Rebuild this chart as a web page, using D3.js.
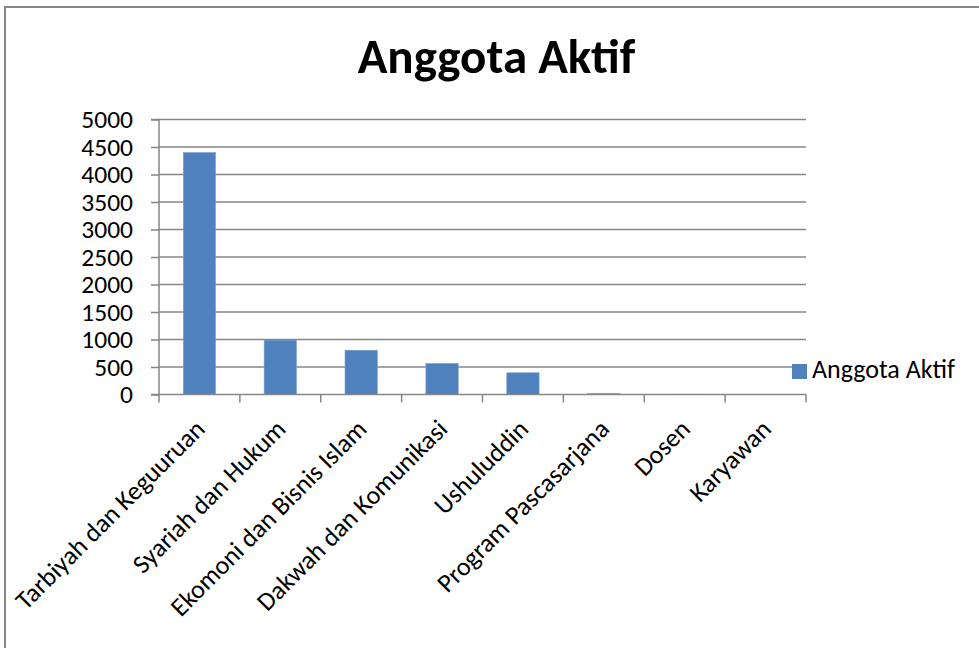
<!DOCTYPE html>
<html><head><meta charset="utf-8">
<script src="https://cdn.jsdelivr.net/npm/d3@7"></script>
<style>body{margin:0;background:#fff}svg{display:block}</style>
</head><body>
<svg id="c" width="979" height="648"></svg>
<script>
const categories = ["Tarbiyah dan Keguuruan","Syariah dan Hukum","Ekomoni dan Bisnis Islam","Dakwah dan Komunikasi","Ushuluddin","Program Pascasarjana","Dosen","Karyawan"];
const values = [4400, 990, 805, 565, 395, 20, 5, 0];
const yTicks = [0,500,1000,1500,2000,2500,3000,3500,4000,4500,5000];
const seriesName = "Anggota Aktif";
const chartTitle = "Anggota Aktif";

(function(){
const font = "Carlito, Calibri, 'Open Sans', 'Liberation Sans', sans-serif";
const svg = d3.select("#c");
svg.append("rect").attr("x",5).attr("y",7).attr("width",1000).attr("height",700)
  .attr("fill","#fff").attr("stroke","#878787").attr("stroke-width",2);

const pLeft=159, pRight=806, pTop=119.5, pBottom=394.5;
const x = d3.scaleBand().domain(categories).range([pLeft,pRight]).paddingInner(0.6).paddingOuter(0.3);
const xb = d3.scaleBand().domain(categories).range([pLeft,pRight]);
const y = d3.scaleLinear().domain([0,5000]).range([pBottom,pTop]);

svg.append("text").attr("x",496.5).attr("y",73).attr("text-anchor","middle")
  .attr("font-family",font).attr("font-weight","bold").attr("font-size",49).text(chartTitle);

svg.append("g").selectAll("line").data(yTicks.filter(d=>d>0)).join("line")
  .attr("x1",pLeft).attr("x2",pRight).attr("y1",d=>y(d)).attr("y2",d=>y(d))
  .attr("stroke","#868686").attr("stroke-width",1.5);

const ya = svg.append("g").attr("transform",`translate(${pLeft},0)`)
  .call(d3.axisLeft(y).tickValues(yTicks).tickSize(8).tickPadding(18).tickFormat(d3.format("d")));
ya.select(".domain").attr("stroke","#868686").attr("stroke-width",1.5).attr("d",`M-8,${pTop}H0V${pBottom}H-8`);
ya.selectAll(".tick line").attr("stroke","#868686").attr("stroke-width",1.5);
ya.selectAll(".tick text").attr("font-family",font).attr("font-size",25.5).attr("fill","#000");

svg.append("g").selectAll("rect").data(values).join("rect")
  .attr("x",(d,i)=>x(categories[i])).attr("width",x.bandwidth())
  .attr("y",d=>y(d)).attr("height",d=>pBottom-y(d))
  .attr("fill","#4f81bd").attr("stroke","#7ea3d3").attr("stroke-width",0.6);

const xa = svg.append("g").attr("transform",`translate(0,${pBottom})`)
  .call(d3.axisBottom(xb).tickSize(0).tickFormat(""));
xa.select(".domain").attr("stroke","#868686").attr("stroke-width",1.5).attr("d",`M${pLeft},0H${pRight}`);
xa.selectAll(".tick").remove();
const bounds = categories.map(c=>xb(c)).concat([pRight]);
xa.selectAll("line.t").data(bounds).join("line").attr("class","t")
  .attr("x1",d=>d).attr("x2",d=>d).attr("y1",0).attr("y2",8)
  .attr("stroke","#868686").attr("stroke-width",1.5);

svg.append("g").selectAll("text").data(categories).join("text")
  .attr("transform",d=>`translate(${xb(d)+xb.bandwidth()/2+7},${pBottom+36}) rotate(-45)`)
  .attr("text-anchor","end")
  .attr("font-family",font).attr("font-size",26).attr("fill","#000").text(d=>d);

svg.append("rect").attr("x",792).attr("y",364).attr("width",15).attr("height",15).attr("fill","#4f81bd");
svg.append("text").attr("x",812).attr("y",377.5).attr("font-family",font).attr("font-size",26).text(seriesName);
})();
</script>
</body></html>
